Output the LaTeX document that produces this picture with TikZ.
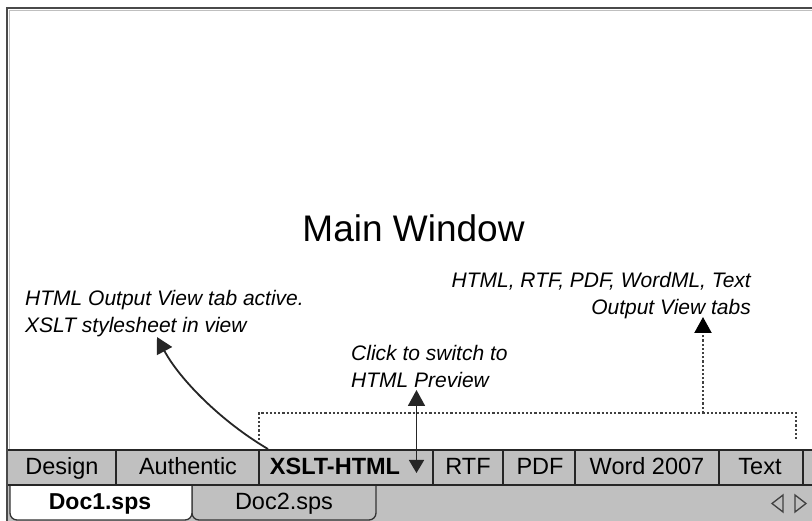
\documentclass[tikz,border=0pt]{standalone}
\usepackage{fontspec}
\setmainfont{Liberation Sans}
\usetikzlibrary{arrows.meta}
\definecolor{tabgray}{HTML}{C0C0C0}
\definecolor{framegray}{HTML}{4A4A4A}
\definecolor{dotgray}{HTML}{404040}
\begin{document}
\begin{tikzpicture}[x=1pt,y=-1pt,
  tabline/.style={draw=black!85, line width=1.8pt},
  lbl/.style={inner sep=0pt, anchor=base, font=\fontsize{23.5}{26}\selectfont},
  boldlbl/.style={lbl, font=\fontsize{23}{26}\selectfont\bfseries},
  note/.style={inner sep=0pt, font=\fontsize{21}{27}\selectfont\itshape},
  bigtip/.tip={Triangle[length=16pt,width=17pt]},
  solidarr/.style={-bigtip, line width=1.8pt, draw=black!85},
  dotline/.style={line width=2.2pt, draw=dotgray, dash pattern=on 2.2pt off 2pt},
  doctab/.style={draw=black!80, line width=1.3pt, rounded corners=7pt},
  navtri/.style={draw=black!75, line width=1.3pt, line join=miter}]

\useasboundingbox (0,0) rectangle (812,521);
\fill[white] (0,0) rectangle (812,521);

% main window frame
\draw[framegray, line width=2.8pt] (7,521) -- (7,8) -- (812,8);
\draw[black!25, line width=1pt] (9.8,521) -- (9.8,10.8) -- (812,10.8);

% main window title
\node[inner sep=0pt, anchor=base, font=\fontsize{37}{40}\selectfont] (title) at (413.5,242) {Main Window};

% output view tab bar
\fill[tabgray] (8,450) rectangle (812,485);
\draw[tabline] (8,450) -- (812,450);
\draw[tabline] (8,485) -- (812,485);
\foreach \x in {116,259,433,503,575,719,803}
  \draw[tabline] (\x,450) -- (\x,485);

\node[lbl] (design) at (62,475) {Design};
\node[lbl] (authentic) at (188,475) {Authentic};
\node[lbl, font=\fontsize{23.5}{26}\selectfont\bfseries] (xslt) at (335,475) {XSLT-HTML};
\node[lbl] (rtf) at (468,475) {RTF};
\node[lbl] (pdf) at (540,475) {PDF};
\node[lbl] (word) at (647,475) {Word 2007};
\node[lbl] (text) at (760,475) {Text};

% document tab row
\fill[tabgray] (8,486) rectangle (812,521);
\draw[doctab, fill=tabgray] (192,484) -- (192,520) -- (376,520) -- (376,484);
\draw[doctab, fill=white] (10,484) -- (10,520) -- (192,520) -- (192,484);
\draw[tabline] (8,485) -- (812,485);
\node[boldlbl] (doc1) at (100,509) {Doc1.sps};
\node[lbl] (doc2) at (284,509) {Doc2.sps};

% navigation arrows
\draw[navtri] (783,495) -- (772,503.5) -- (783,512) -- cycle;
\draw[navtri] (795,495) -- (806,503.5) -- (795,512) -- cycle;

% annotations
\node[note, anchor=north west, align=left] (note1) at (25,290)
  {HTML Output View tab active.\\XSLT stylesheet in view};
\node[note, anchor=north east, align=right] (note2) at (751,272)
  {HTML, RTF, PDF, WordML, Text\\Output View tabs};
\node[note, anchor=north west, align=left] (note3) at (351,345)
  {Click to switch to\\HTML Preview};

% curved arrow to note1
\coordinate (c1) at (268,449);
\coordinate (t1) at (157,337);
\draw[solidarr] (c1) .. controls (222,422) and (180,380) .. (t1);

% click arrow (double-headed)
\coordinate (c2) at (416.5,473);
\coordinate (t2) at (416.5,390);
\draw[solidarr, {Triangle[length=13pt,width=15pt]}-bigtip] (c2) -- (t2);

% dotted bracket over output view tabs
\coordinate (b1) at (259,440);
\coordinate (b2) at (259,413);
\coordinate (b3) at (796,413);
\coordinate (b4) at (796,440);
\coordinate (bm) at (703,413);
\coordinate (t3) at (703,317);
\draw[dotline] (b1) -- (b2) -- (b3) -- (b4);
\draw[dotline, -{Triangle[length=16pt,width=17pt,color=black]}] (bm) -- (t3);
\end{tikzpicture}
\end{document}
